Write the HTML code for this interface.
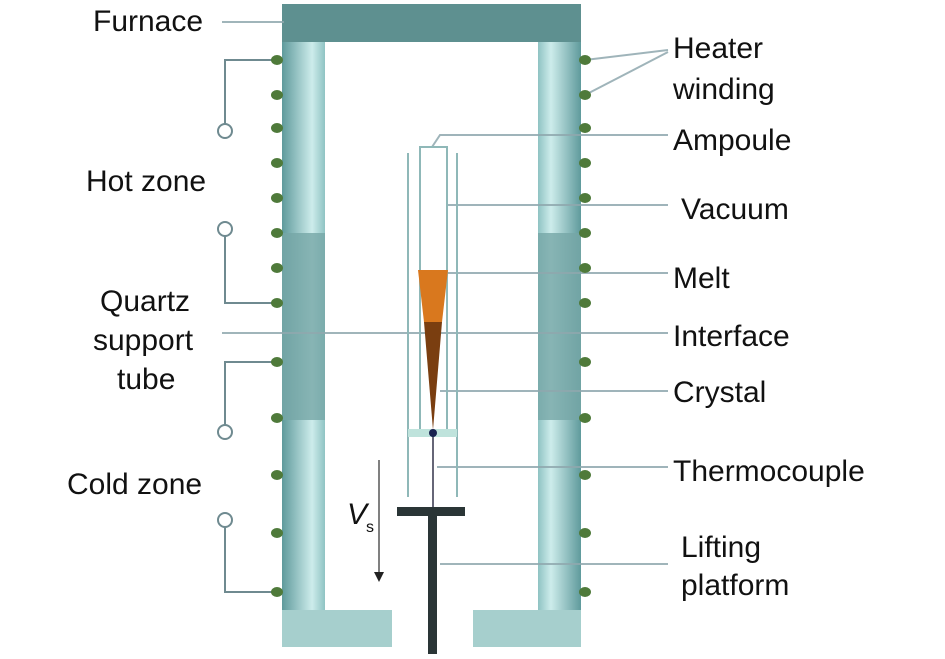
<!DOCTYPE html>
<html><head><style>
body{margin:0;background:#fff;}
svg text{font-family:"Liberation Sans",sans-serif;font-size:30px;fill:#111;}
</style></head><body>
<svg width="945" height="654" viewBox="0 0 945 654" xmlns="http://www.w3.org/2000/svg">
<defs>
<linearGradient id="wl" x1="0" x2="1" y1="0" y2="0"><stop offset="0" stop-color="#5f9a9c"/><stop offset="0.7" stop-color="#cdeceb"/><stop offset="1" stop-color="#8fc3c3"/></linearGradient>
<linearGradient id="wr" x1="0" x2="1" y1="0" y2="0"><stop offset="0" stop-color="#8fc3c3"/><stop offset="0.3" stop-color="#cdeceb"/><stop offset="1" stop-color="#5f9a9c"/></linearGradient>
</defs>
<!-- furnace -->
<rect x="282" y="4" width="299" height="38" fill="#5e9090"/>
<rect x="282" y="42" width="43" height="568" fill="url(#wl)"/>
<rect x="538" y="42" width="43" height="568" fill="url(#wr)"/>
<rect x="282" y="233" width="43" height="187" fill="#76a6a6" opacity="0.8"/>
<rect x="538" y="233" width="43" height="187" fill="#76a6a6" opacity="0.8"/>
<rect x="282" y="610" width="110" height="37" fill="#a6cfcd"/>
<rect x="473" y="610" width="108" height="37" fill="#a6cfcd"/>
<!-- leader lines -->
<g stroke="#8fa8ae" stroke-width="2" fill="none" opacity="0.85">
<line x1="222" y1="22" x2="284" y2="22"/>
<line x1="222" y1="333" x2="668" y2="333"/>
<line x1="585" y1="60" x2="668" y2="50"/>
<line x1="585" y1="95" x2="668" y2="52"/>
<polyline points="432,147 440,135 668,135"/>
<line x1="447" y1="205" x2="668" y2="205"/>
<line x1="447" y1="273" x2="668" y2="273"/>
<line x1="440" y1="391" x2="668" y2="391"/>
<line x1="437" y1="467" x2="668" y2="467"/>
<line x1="440" y1="564" x2="668" y2="564"/>
</g>
<!-- circuits -->
<g stroke="#6f8a90" stroke-width="2" fill="none">
<polyline points="278,60 225,60 225,124"/><circle cx="225" cy="131" r="7"/>
<circle cx="225" cy="229" r="7"/><polyline points="225,236 225,303 278,303"/>
<polyline points="278,362 225,362 225,425"/><circle cx="225" cy="432" r="7"/>
<circle cx="225" cy="520" r="7"/><polyline points="225,527 225,592 278,592"/>
</g>
<!-- heater dots -->
<g fill="#4f7a3a">
<ellipse cx="277" cy="60" rx="6" ry="5"/><ellipse cx="277" cy="95" rx="6" ry="5"/><ellipse cx="277" cy="128" rx="6" ry="5"/><ellipse cx="277" cy="163" rx="6" ry="5"/><ellipse cx="277" cy="198" rx="6" ry="5"/><ellipse cx="277" cy="233" rx="6" ry="5"/><ellipse cx="277" cy="268" rx="6" ry="5"/><ellipse cx="277" cy="303" rx="6" ry="5"/><ellipse cx="277" cy="362" rx="6" ry="5"/><ellipse cx="277" cy="418" rx="6" ry="5"/><ellipse cx="277" cy="475" rx="6" ry="5"/><ellipse cx="277" cy="533" rx="6" ry="5"/><ellipse cx="277" cy="592" rx="6" ry="5"/>
<ellipse cx="585" cy="60" rx="6" ry="5"/><ellipse cx="585" cy="95" rx="6" ry="5"/><ellipse cx="585" cy="128" rx="6" ry="5"/><ellipse cx="585" cy="163" rx="6" ry="5"/><ellipse cx="585" cy="198" rx="6" ry="5"/><ellipse cx="585" cy="233" rx="6" ry="5"/><ellipse cx="585" cy="268" rx="6" ry="5"/><ellipse cx="585" cy="303" rx="6" ry="5"/><ellipse cx="585" cy="362" rx="6" ry="5"/><ellipse cx="585" cy="418" rx="6" ry="5"/><ellipse cx="585" cy="475" rx="6" ry="5"/><ellipse cx="585" cy="533" rx="6" ry="5"/><ellipse cx="585" cy="592" rx="6" ry="5"/>
</g>
<!-- ampoule -->
<g stroke="#8fb8b8" stroke-width="2" fill="none">
<line x1="408" y1="153" x2="408" y2="497"/><line x1="457" y1="153" x2="457" y2="497"/>
<polyline points="420,432 420,147 447,147 447,432"/>
</g>
<rect x="408" y="429" width="49" height="8" fill="#bfe3dc"/>
<polygon points="418,270 448,270 442,322 424,322" fill="#d9781e"/>
<polygon points="424,322 442,322 433,430" fill="#7a3e10"/>
<line x1="433" y1="433" x2="433" y2="508" stroke="#667" stroke-width="2"/>
<circle cx="433" cy="433" r="4" fill="#1a2250"/>
<rect x="397" y="507" width="68" height="9" fill="#2a3536"/>
<rect x="428" y="516" width="9" height="138" fill="#2a3536"/>
<!-- Vs arrow -->
<line x1="379" y1="460" x2="379" y2="572" stroke="#555" stroke-width="1.5"/>
<polygon points="374,572 384,572 379,582" fill="#222"/>
<text x="347" y="524" style="font-style:italic">V</text><text x="366" y="532" style="font-size:16px">s</text>
<!-- labels -->
<text x="93" y="31">Furnace</text>
<text x="86" y="191">Hot zone</text>
<text x="100" y="311">Quartz</text>
<text x="93" y="350">support</text>
<text x="117" y="389">tube</text>
<text x="67" y="494">Cold zone</text>
<text x="673" y="58">Heater</text>
<text x="673" y="99">winding</text>
<text x="673" y="150">Ampoule</text>
<text x="681" y="219">Vacuum</text>
<text x="673" y="288">Melt</text>
<text x="673" y="346">Interface</text>
<text x="673" y="402">Crystal</text>
<text x="673" y="481">Thermocouple</text>
<text x="681" y="557">Lifting</text>
<text x="681" y="595">platform</text>
</svg>
</body></html>
